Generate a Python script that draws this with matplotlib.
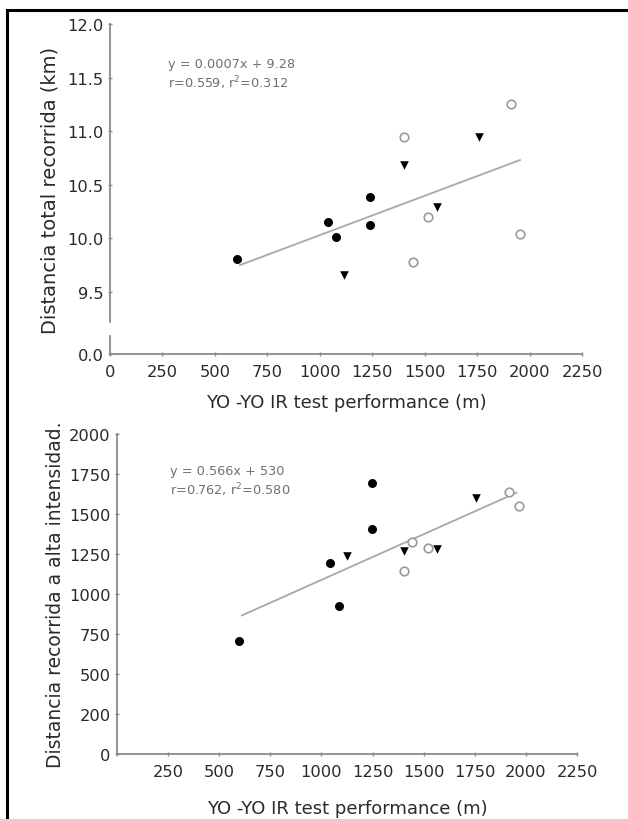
import matplotlib
matplotlib.use("Agg")
import matplotlib.pyplot as plt
from matplotlib.lines import Line2D

plt.rcParams['font.family'] = ['DejaVu Sans']

# ---------------- data ----------------
x_ticks = [0, 250, 500, 750, 1000, 1250, 1500, 1750, 2000, 2250]

# Top panel: total distance (km)
top_filled_x = [604, 1039, 1077, 1239, 1239]
top_filled_y = [9.81, 10.155, 10.01, 10.39, 10.12]
top_tri_x = [1115, 1401, 1560, 1760]
top_tri_y = [9.66, 10.68, 10.29, 10.95]
top_open_x = [1401, 1443, 1516, 1912, 1954]
top_open_y = [10.95, 9.78, 10.20, 11.25, 10.04]
top_fit_x = [620, 1954]
top_fit_y = [9.75, 10.73]
top_yticks = [9.5, 10.0, 10.5, 11.0, 11.5, 12.0]
top_ytick_labels = ['9.5', '10.0', '10.5', '11.0', '11.5', '12.0']
top_zero_label = '0.0'
top_eq = ['y = 0.0007x + 9.28', 'r=0.559, r$^2$=0.312']

# Bottom panel: high-intensity distance (m)
bot_filled_x = [599, 1040, 1084, 1245, 1245]
bot_filled_y = [705, 1192, 922, 1695, 1409]
bot_tri_x = [1123, 1403, 1564, 1757]
bot_tri_y = [1237, 1270, 1279, 1602]
bot_open_x = [1403, 1442, 1521, 1919, 1964]
bot_open_y = [1146, 1326, 1289, 1637, 1550]
bot_fit_x = [611, 1954]
bot_fit_y = [866, 1633]
bot_yticks = [0, 250, 500, 750, 1000, 1250, 1500, 1750, 2000]
bot_ytick_labels = ['0', '200', '500', '750', '1000', '1250', '1500', '1750', '2000']
bot_xtick_labels = ['', '250', '500', '750', '1000', '1250', '1500', '1750', '2000', '2250']
bot_eq = ['y = 0.566x + 530', 'r=0.762, r$^2$=0.580']

x_label = 'YO -YO IR test performance (m)'
top_ylabel = 'Distancia total recorrida (km)'
bot_ylabel = 'Distancia recorrida a alta intensidad.'

# ---------------- figure ----------------
W, H = 628, 820
fig = plt.figure(figsize=(W / 100, H / 100), dpi=100)

def fx(px):
    return px / W

def fy(py):
    return 1 - py / H

# outer frame: top and left lines only
fig.lines.append(Line2D([fx(7), fx(7), fx(628)], [fy(821), fy(11), fy(11)],
                        transform=fig.transFigure, color='black',
                        linewidth=2.2, solid_joinstyle='miter'))

spine_col = '#8a8a8a'
tick_col = '#2a2a2a'
line_col = '#a8a8a8'

def style(ax):
    for s in ['top', 'right']:
        ax.spines[s].set_visible(False)
    for s in ['left', 'bottom']:
        ax.spines[s].set_color(spine_col)
        ax.spines[s].set_linewidth(1.3)
    ax.tick_params(axis='both', colors=spine_col, labelcolor=tick_col,
                   labelsize=11.7, length=3, width=1, direction='inout')
    ax.tick_params(axis='x', pad=6)
    ax.tick_params(axis='y', pad=3)

def draw(ax, fx_, fy_, tx, ty, ox, oy, lx, ly):
    ax.plot(lx, ly, color=line_col, linewidth=1.3, zorder=1)
    ax.scatter(fx_, fy_, s=42, color='black', zorder=3, linewidths=0)
    ax.scatter(tx, ty, s=38, marker='v', color='black', zorder=3, linewidths=0)
    ax.scatter(ox, oy, s=38, facecolors='white', edgecolors='#9a9a9a',
               linewidths=1.2, zorder=3)

# top axes
y_bottom_top = 8.92
ax1 = fig.add_axes([fx(110), fy(355), fx(582) - fx(110), fy(25) - fy(355)])
style(ax1)
draw(ax1, top_filled_x, top_filled_y, top_tri_x, top_tri_y,
     top_open_x, top_open_y, top_fit_x, top_fit_y)
ax1.set_xlim(0, 2250)
ax1.set_ylim(y_bottom_top, 12.0)
ax1.set_xticks(x_ticks)
ax1.set_xticklabels([str(v) for v in x_ticks])
ax1.set_yticks([y_bottom_top] + top_yticks)
ax1.set_yticklabels([top_zero_label] + top_ytick_labels)
ax1.set_xlabel(x_label, fontsize=13, color=tick_col, labelpad=10)
ax1.set_ylabel(top_ylabel, fontsize=14, color=tick_col, labelpad=6)
# axis break mark
ax1.plot([0, 0], [9.12, 9.2], color='white', linewidth=2.5,
         clip_on=False, zorder=5)
ax1.text(0.123, 0.9, top_eq[0] + '\n' + top_eq[1], transform=ax1.transAxes,
         fontsize=9.3, color='#707070', va='top', ha='left', linespacing=1.25)

# bottom axes
ax2 = fig.add_axes([fx(117), fy(755), fx(577) - fx(117), fy(435) - fy(755)])
style(ax2)
draw(ax2, bot_filled_x, bot_filled_y, bot_tri_x, bot_tri_y,
     bot_open_x, bot_open_y, bot_fit_x, bot_fit_y)
ax2.set_xlim(0, 2250)
ax2.set_ylim(0, 2000)
ax2.set_xticks(x_ticks)
ax2.set_xticklabels(bot_xtick_labels)
ax2.set_yticks(bot_yticks)
ax2.set_yticklabels(bot_ytick_labels)
ax2.set_xlabel(x_label, fontsize=13, color=tick_col, labelpad=14)
ax2.set_ylabel(bot_ylabel, fontsize=13.5, color=tick_col, labelpad=3)
ax2.text(0.115, 0.905, bot_eq[0] + '\n' + bot_eq[1], transform=ax2.transAxes,
         fontsize=9.3, color='#707070', va='top', ha='left', linespacing=1.25)

fig.savefig('out.png', dpi=100)
